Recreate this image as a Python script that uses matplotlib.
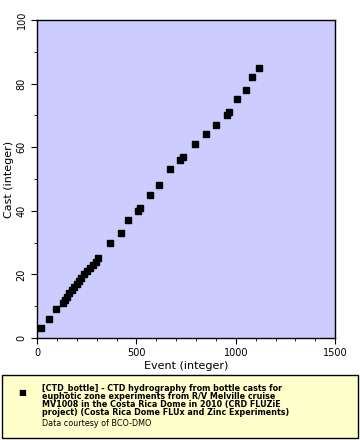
import numpy as np
import matplotlib
matplotlib.use('Agg')
import matplotlib.pyplot as plt
from matplotlib.patches import Rectangle
from matplotlib.ticker import MultipleLocator

# event number vs cast number
event = [20, 60, 96, 131, 141, 151, 161, 176, 186, 201, 211, 221, 235, 250,
         265, 280, 295, 305, 366, 421, 456, 507, 517, 567, 612, 668, 718, 733,
         794, 849, 899, 955, 965, 1005, 1050, 1081, 1116]
cast = [3, 6, 9, 11, 12, 13, 14, 15, 16, 17, 18, 19, 20, 21, 22, 23, 24, 25,
        30, 33, 37, 40, 41, 45, 48, 53, 56, 57, 61, 64, 67, 70, 71, 75, 78, 82, 85]

legend_title = ("[CTD_bottle] - CTD hydrography from bottle casts for\n"
                "euphotic zone experiments from R/V Melville cruise\n"
                "MV1008 in the Costa Rica Dome in 2010 (CRD FLUZiE\n"
                "project) (Costa Rica Dome FLUx and Zinc Experiments)")
credit = "Data courtesy of BCO-DMO"

fig = plt.figure(figsize=(3.6, 4.4), dpi=100)
ax = fig.add_axes([0.103, 0.232, 0.828, 0.7225])
ax.set_facecolor('#ccccff')
ax.plot(event, cast, 's', color='black', markersize=4.5, linestyle='none')

ax.set_xlim(0, 1500)
ax.set_ylim(0, 100)
ax.xaxis.set_major_locator(MultipleLocator(500))
ax.xaxis.set_minor_locator(MultipleLocator(100))
ax.yaxis.set_major_locator(MultipleLocator(20))
ax.yaxis.set_minor_locator(MultipleLocator(10))
ax.tick_params(which='major', length=4, labelsize=7, direction='out')
ax.tick_params(which='minor', length=2, direction='out')
for lab in ax.get_yticklabels():
    lab.set_rotation(90)
    lab.set_va('center')
ax.set_xlabel('Event (integer)', fontsize=8, labelpad=2)
ax.set_ylabel('Cast (integer)', fontsize=8, labelpad=2)
for s in ax.spines.values():
    s.set_linewidth(1.0)

# legend box at the bottom
box = Rectangle((0.006, 0.005), 0.988, 0.143, transform=fig.transFigure,
                facecolor='#ffffcc', edgecolor='black', linewidth=1.0)
fig.patches.append(box)
fig.text(0.063, 0.109, '\u25a0', fontsize=6, va='center', ha='center')
fig.text(0.117, 0.127, legend_title, fontsize=5.8, fontweight='bold',
         va='top', ha='left', linespacing=0.86)
fig.text(0.117, 0.047, credit, fontsize=5.8, va='top', ha='left')

fig.savefig('out.png', dpi=100)
